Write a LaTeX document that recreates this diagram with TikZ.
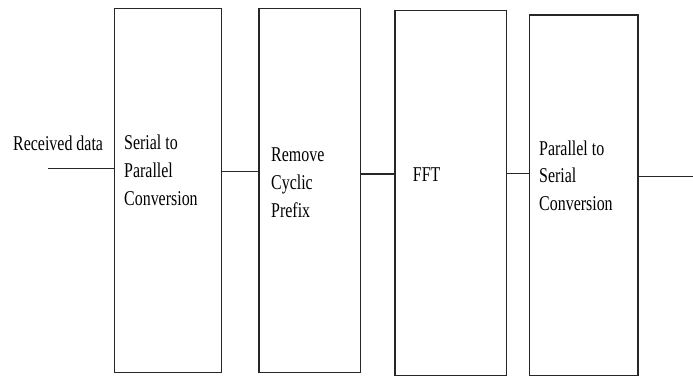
\documentclass[tikz,border=0pt]{standalone}
\usepackage{fontspec}
\setmainfont{Liberation Serif}
\usepackage{graphicx}
\newcommand\txtlines[1]{\scalebox{1}[1.32]{\fontsize{16}{21.2}\selectfont\begin{tabular}[t]{@{}l@{}}#1\end{tabular}}}
\begin{document}
\begin{tikzpicture}[x=1bp,y=-1bp,
  blockbox/.style={draw=black!85, line width=1.2bp, minimum width=#1, inner sep=0, anchor=north west},
  lbl/.style={anchor=base west, inner sep=0},
  wire/.style={draw=black!85, line width=1.2bp}]
\useasboundingbox (0,0) rectangle (693,376);
% boxes
\node[blockbox, minimum width=107.2bp, minimum height=363.7bp] (b1) at (113.5,8) {};
\node[blockbox, minimum width=101.7bp, minimum height=363.7bp] (b2) at (258.3,8) {};
\node[blockbox, minimum width=111.4bp, minimum height=365bp] (b3) at (394.3,10) {};
\node[blockbox, minimum width=108.3bp, minimum height=360.7bp] (b4) at (529,14.3) {};
% labels
\node[lbl] (tin) at (13,150) {\txtlines{Received data}};
\node[lbl] (t1) at (124,149.3) {\txtlines{Serial to\\Parallel\\Conversion}};
\node[lbl] (t2) at (271,161.7) {\txtlines{Remove\\Cyclic\\Prefix}};
\node[lbl] (t3) at (412.7,181.7) {\txtlines{FFT}};
\node[lbl] (t4) at (539,155) {\txtlines{Parallel to\\Serial\\Conversion}};
% connectors
\coordinate (in) at (47.7,168.3);
\coordinate (out) at (693,176.7);
\coordinate (y12) at (0,171.7);
\coordinate (y23) at (0,174);
\coordinate (y34) at (0,173.3);
\draw[wire] (in) -- (b1.west |- in);
\draw[wire] (b1.east |- y12) -- (b2.west |- y12);
\draw[wire] (b2.east |- y23) -- (b3.west |- y23);
\draw[wire] (b3.east |- y34) -- (b4.west |- y34);
\draw[wire] (b4.east |- out) -- (out);
\end{tikzpicture}
\end{document}
